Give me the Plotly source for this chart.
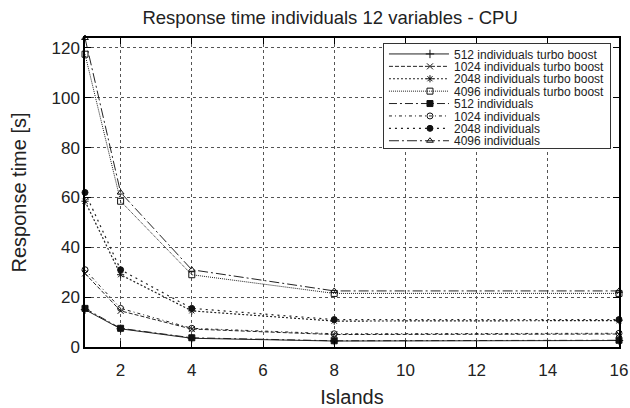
import plotly.graph_objects as go

islands = [1, 2, 4, 8, 16]

series_names = [
    "512 individuals turbo boost",
    "1024 individuals turbo boost",
    "2048 individuals turbo boost",
    "4096 individuals turbo boost",
    "512 individuals",
    "1024 individuals",
    "2048 individuals",
    "4096 individuals",
]

tb_512 = [15.0, 7.3, 3.5, 2.4, 2.6]
tb_1024 = [29.5, 14.5, 7.2, 5.0, 5.2]
tb_2048 = [58.5, 29.0, 14.5, 10.4, 10.6]
tb_4096 = [117.5, 58.5, 29.0, 21.5, 21.5]
ind_512 = [15.5, 7.5, 3.7, 2.5, 2.7]
ind_1024 = [31.0, 15.5, 7.5, 5.3, 5.5]
ind_2048 = [62.0, 31.0, 15.5, 11.0, 11.0]
ind_4096 = [124.0, 62.0, 31.0, 22.5, 22.5]

values = [tb_512, tb_1024, tb_2048, tb_4096, ind_512, ind_1024, ind_2048, ind_4096]

# (dash, marker symbol, line width) - gnuplot-like monochrome styles
styles = [
    ("solid", "cross-thin-open", 1.0),
    ("4px,2px", "x-thin-open", 1.0),
    ("2px,2px", "asterisk-open", 1.2),
    ("1px,1px", "square-open", 1.0),
    ("8px,3px,2px,3px", "square", 1.0),
    ("3px,3px,1px,3px", "circle-open", 1.0),
    ("2px,4px", "circle", 1.2),
    ("10px,3px,2px,3px", "triangle-up-open", 1.0),
]

fig = go.Figure()
for name, ys, (dash, symbol, width) in zip(series_names, values, styles):
    fig.add_trace(go.Scatter(
        x=islands, y=ys, name=name, mode="lines+markers",
        line=dict(color="#222222", width=width, dash=dash),
        marker=dict(symbol=symbol, size=6, color="#111111",
                    line=dict(color="#111111", width=1)),
        cliponaxis=False,
    ))

axis_common = dict(
    showline=True, linecolor="black", linewidth=1.5, mirror="ticks",
    ticks="inside", ticklen=6, tickcolor="black", automargin=False,
    showgrid=True, gridcolor="#555555", griddash="dot", gridwidth=1,
    zeroline=False, tickfont=dict(size=17, color="#222222"),
)

fig.update_layout(
    width=630, height=408,
    margin=dict(l=85, r=11, t=38, b=61),
    paper_bgcolor="white", plot_bgcolor="white",
    font=dict(family="Liberation Sans, Arial, sans-serif", color="#222222"),
    title=dict(text="Response time individuals 12 variables - CPU",
               x=0.524, xanchor="center", y=0.956, yanchor="middle",
               font=dict(size=18.5, color="#222222")),
    xaxis=dict(axis_common, range=[1, 16], tickvals=[2, 4, 6, 8, 10, 12, 14, 16],
               ticklabelstandoff=7,
               title=dict(text="Islands", font=dict(size=20), standoff=15)),
    yaxis=dict(axis_common, range=[0, 124], tickvals=[0, 20, 40, 60, 80, 100, 120],
               title=dict(text="Response time [s]", font=dict(size=20), standoff=19)),
    legend=dict(x=0.558, y=0.984, xanchor="left", yanchor="top",
                bgcolor="white", bordercolor="#333333", borderwidth=1,
                font=dict(size=12), tracegroupgap=0, itemwidth=60),
)

# drop the default body margin and tighten legend rows
# (plotly enforces a 19px minimum row height)
tighten_js = """
document.body.style.margin = '0';
var gd = document.getElementById('{plot_id}');
function tighten() {
  var leg = gd.querySelector('g.legend');
  if (!leg) return;
  var items = leg.querySelectorAll('g.traces');
  var top = 11, step = 12.4;
  items.forEach(function (g, i) {
    var m = /translate\\(([-\\d.]+)/.exec(g.getAttribute('transform') || '');
    var x = m ? m[1] : 1;
    g.setAttribute('transform', 'translate(' + x + ',' + (top + i * step) + ')');
    var sym = g.querySelector('g.legendsymbols');
    if (sym) sym.setAttribute('transform', 'translate(11,0)');
  });
  var h = top + (items.length - 1) * step + 7;
  var bg = leg.querySelector('rect.bg');
  if (bg) bg.setAttribute('height', h);
}
tighten();
gd.on('plotly_afterplot', tighten);
"""

fig.write_html("out.html", post_script=tighten_js,
               config={"displayModeBar": False})
